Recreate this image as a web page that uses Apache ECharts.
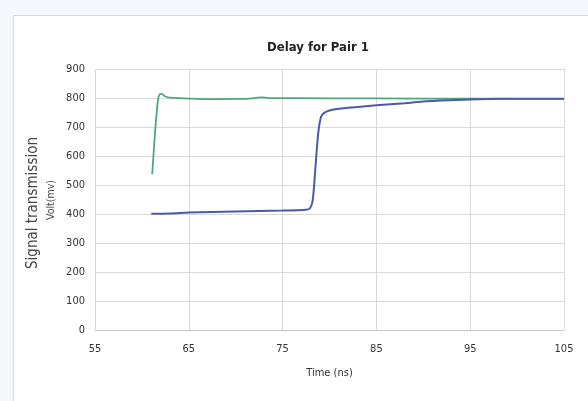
<!DOCTYPE html>
<html><head><meta charset="utf-8">
<script src="https://cdn.jsdelivr.net/npm/echarts@6/dist/echarts.min.js"></script>
<style>
html,body{margin:0;padding:0;background:#f4f8fc;}
#card{position:absolute;left:13px;top:15px;width:600px;height:420px;background:#fff;border:1px solid #d6dade;}
#c{position:absolute;left:0;top:0;width:588px;height:401px;}
</style></head><body>
<div id="card"></div>
<div id="c"></div>
<script>
const title = "Delay for Pair 1";
const xTicks = [55, 65, 75, 85, 95, 105];
const yTicks = [0, 100, 200, 300, 400, 500, 600, 700, 800, 900];
const greenTime = [61.1, 61.4, 61.7, 61.9, 62.1, 62.5, 63, 65, 67, 70, 71.5, 72.3, 72.8, 73.5, 80, 90, 100, 105];
const greenVolt = [537, 680, 790, 813, 814, 805, 801, 798, 796, 797, 798, 801, 802, 800, 799, 798, 797, 797];
const blueTime = [61, 63, 65, 70, 75, 77.5, 77.9, 78.2, 78.5, 78.8, 79.1, 79.4, 80, 81, 83, 85, 88, 90, 92, 95, 98, 105];
const blueVolt = [401, 402, 405, 409, 412, 415, 419, 445, 560, 680, 735, 748, 757, 763, 769, 775, 782, 788, 791, 795, 797, 797];

const chart = echarts.init(document.getElementById('c'), null, {renderer:'canvas'});
const pairs = (xs, ys) => xs.map((x, i) => [x, ys[i]]);
const font = "'Liberation Sans Narrow','DejaVu Sans Condensed','Open Sans',sans-serif";
chart.setOption({
  backgroundColor: 'transparent',
  animation: false,
  title: {text: title, left: 313, top: 36, textAlign: 'center',
    textStyle: {fontSize: 13, fontWeight: 'bold', color: '#222', fontFamily: font}},
  grid: {left: 95, right: 24, top: 69, bottom: 71},
  xAxis: {type: 'value', min: xTicks[0], max: xTicks[xTicks.length-1], interval: 10,
    name: 'Time (ns)', nameLocation: 'middle', nameGap: 38,
    nameTextStyle: {fontSize: 11, color: '#333', fontFamily: font},
    axisLine: {lineStyle: {color: '#c8c8c8'}}, axisTick: {show: false},
    axisLabel: {fontSize: 11, color: '#333', margin: 14, fontFamily: font},
    splitLine: {show: true, lineStyle: {color: '#d9d9d9'}}},
  yAxis: {type: 'value', min: yTicks[0], max: yTicks[yTicks.length-1], interval: 100,
    axisLine: {show: false}, axisTick: {show: false},
    axisLabel: {fontSize: 11, color: '#333', margin: 10, fontFamily: font},
    splitLine: {show: true, lineStyle: {color: '#d9d9d9'}}},
  graphic: [
    {type: 'text', x: 26, y: 203, rotation: Math.PI/2, style: {text: 'Signal transmission', fontSize: 15, fill: '#444', fontFamily: font, align: 'center', verticalAlign: 'top'}},
    {type: 'text', x: 46, y: 200, rotation: Math.PI/2, style: {text: 'Volt(mv)', fontSize: 10.5, fill: '#444', fontFamily: font, align: 'center', verticalAlign: 'top'}}
  ],
  series: [
    {type: 'line', data: pairs(greenTime, greenVolt), showSymbol: false, smooth: 0.3,
     lineStyle: {color: '#4fa67f', width: 1.8}},
    {type: 'line', data: pairs(blueTime, blueVolt), showSymbol: false, smooth: 0.3,
     lineStyle: {color: '#4a5ba8', width: 2}}
  ]
});
</script>
</body></html>
